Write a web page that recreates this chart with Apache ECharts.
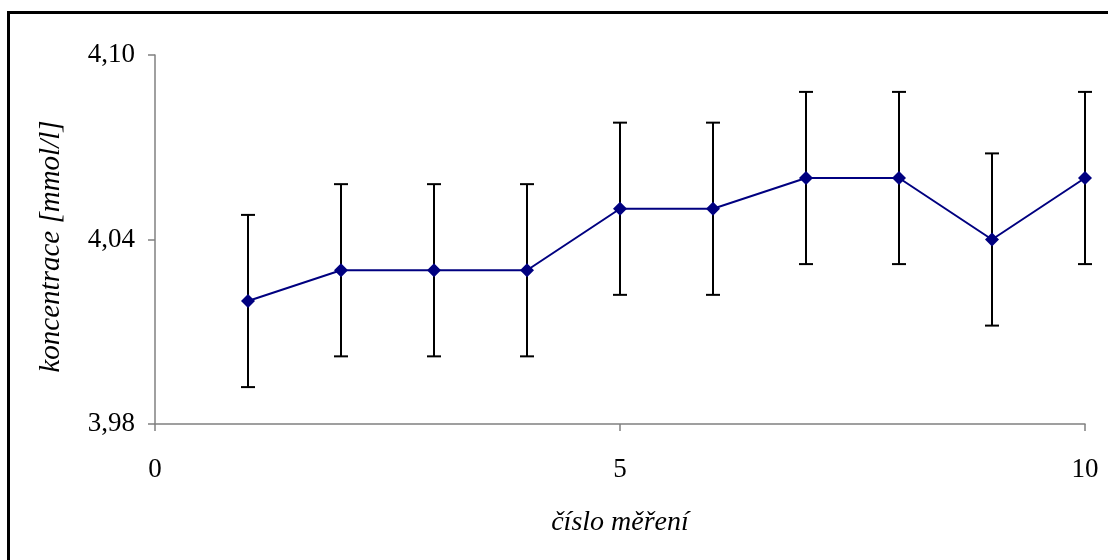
<!DOCTYPE html>
<html>
<head>
<meta charset="utf-8">
<script src="https://cdn.jsdelivr.net/npm/echarts@6/dist/echarts.min.js"></script>
<style>
html,body{margin:0;padding:0;background:#fff;}
#c{width:1108px;height:560px;}
</style>
</head>
<body>
<div id="c"></div>
<script>
const measurements = [1, 2, 3, 4, 5, 6, 7, 8, 9, 10];
const concentration = [4.02, 4.03, 4.03, 4.03, 4.05, 4.05, 4.06, 4.06, 4.04, 4.06];
const errorPlusMinus = [0.028, 0.028, 0.028, 0.028, 0.028, 0.028, 0.028, 0.028, 0.028, 0.028];
const yTicks = [3.98, 4.04, 4.10];
const xTicks = [0, 5, 10];

const chart = echarts.init(document.getElementById('c'));
const font = 'Liberation Serif';
const lineData = measurements.map((x, i) => [x, concentration[i]]);
const errData = measurements.map((x, i) => [x, concentration[i] - errorPlusMinus[i], concentration[i] + errorPlusMinus[i]]);

chart.setOption({
  animation: false,
  backgroundColor: '#fff',
  graphic: [{
    type: 'rect',
    shape: {x: 8.5, y: 12.5, width: 1200, height: 700},
    style: {fill: 'none', stroke: '#000', lineWidth: 3},
    silent: true
  }],
  grid: {left: 155, top: 55, right: 23, bottom: 136},
  xAxis: {
    type: 'value', min: 0, max: 10, interval: 5,
    axisLine: {lineStyle: {color: '#808080', width: 1.5}},
    axisTick: {show: true, length: 7, lineStyle: {color: '#808080', width: 1.5}},
    axisLabel: {color: '#000', fontFamily: font, fontSize: 27, margin: 32,
      formatter: v => xTicks.includes(v) ? String(v) : ''},
    splitLine: {show: false},
    name: 'číslo měření', nameLocation: 'middle', nameGap: 85,
    nameTextStyle: {color: '#000', fontFamily: font, fontSize: 28, fontStyle: 'italic'}
  },
  yAxis: {
    type: 'value', min: 3.98, max: 4.10, interval: 0.06,
    axisLine: {show: true, lineStyle: {color: '#808080', width: 1.5}},
    axisTick: {show: true, length: 7, lineStyle: {color: '#808080', width: 1.5}},
    axisLabel: {color: '#000', fontFamily: font, fontSize: 27, margin: 20,
      formatter: v => {
        const t = yTicks.find(k => Math.abs(k - v) < 1e-6);
        return t !== undefined ? t.toFixed(2).replace('.', ',') : '';
      }},
    splitLine: {show: false},
    name: 'koncentrace [mmol/l]', nameLocation: 'middle', nameGap: 89, nameRotate: 90,
    nameTextStyle: {color: '#000', fontFamily: font, fontSize: 29, fontStyle: 'italic', padding: [0, 14, 0, 0]}
  },
  series: [
    {
      type: 'custom',
      data: errData,
      z: 1,
      renderItem: function (params, api) {
        const x = api.value(0);
        const lo = api.coord([x, api.value(1)]);
        const hi = api.coord([x, api.value(2)]);
        const hw = 7;
        const st = {stroke: '#000', lineWidth: 2};
        return {
          type: 'group',
          children: [
            {type: 'line', shape: {x1: lo[0], y1: lo[1], x2: hi[0], y2: hi[1]}, style: st},
            {type: 'line', shape: {x1: lo[0] - hw, y1: lo[1], x2: lo[0] + hw, y2: lo[1]}, style: st},
            {type: 'line', shape: {x1: hi[0] - hw, y1: hi[1], x2: hi[0] + hw, y2: hi[1]}, style: st}
          ]
        };
      }
    },
    {
      type: 'line',
      data: lineData,
      z: 3,
      symbol: 'diamond',
      symbolSize: 14,
      lineStyle: {color: '#000080', width: 2},
      itemStyle: {color: '#000080'}
    }
  ]
});
</script>
</body>
</html>
